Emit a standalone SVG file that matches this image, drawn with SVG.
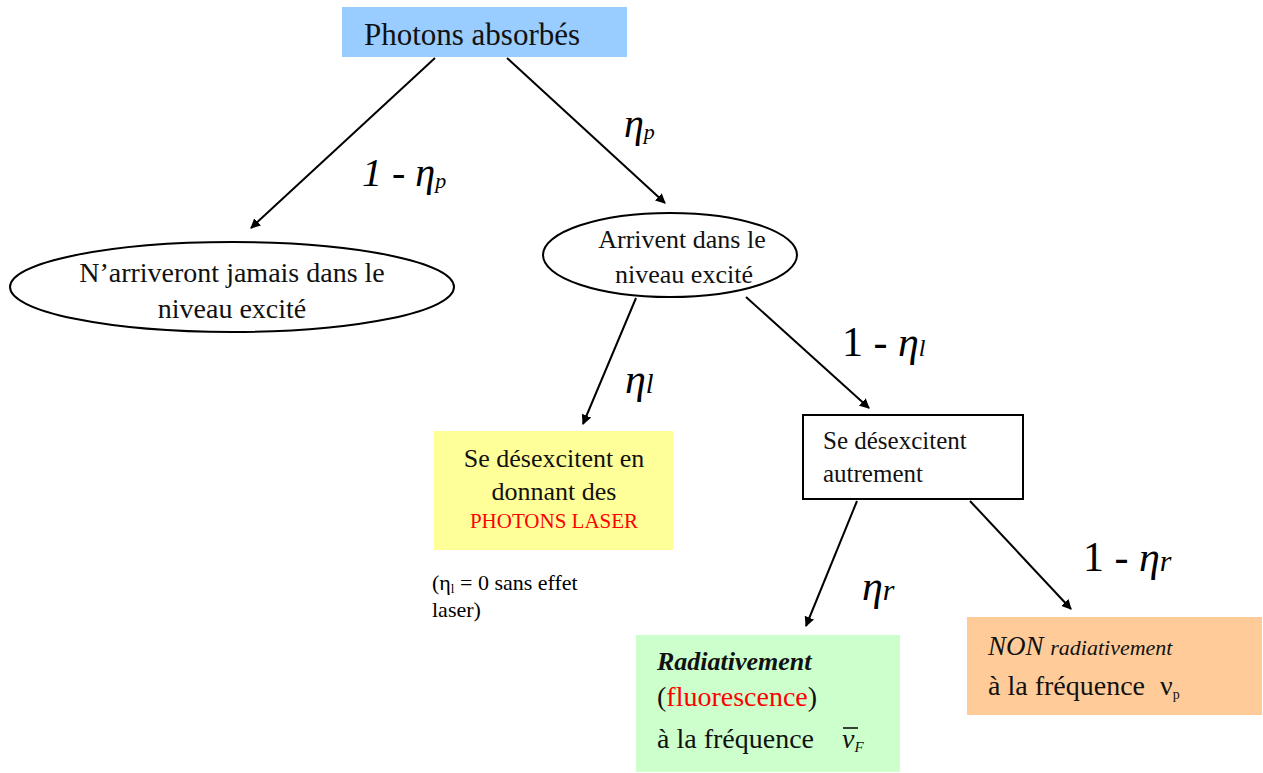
<svg xmlns="http://www.w3.org/2000/svg" width="1263" height="773" viewBox="0 0 1263 773">
<defs>
<marker id="ah" markerWidth="10" markerHeight="10" refX="9" refY="5" orient="auto" markerUnits="userSpaceOnUse" viewBox="0 0 10 10">
<path d="M0,0 L10,5 L0,10 z" fill="#000"/>
</marker>
</defs>
<rect width="1263" height="773" fill="#fff"/>
<g id="connectors" stroke="#000" stroke-width="2" fill="none">
<line marker-end="url(#ah)" x1="435" y1="58" x2="251" y2="228"/>
<line marker-end="url(#ah)" x1="507" y1="58" x2="665" y2="203"/>
<line marker-end="url(#ah)" x1="636" y1="298" x2="583" y2="424"/>
<line marker-end="url(#ah)" x1="746" y1="297" x2="869" y2="408"/>
<line marker-end="url(#ah)" x1="857" y1="501" x2="806" y2="626"/>
<line marker-end="url(#ah)" x1="970" y1="501" x2="1071" y2="609"/>
</g>
<g id="labels" fill="#000">
<text font-family="Liberation Serif" x="362" y="186" font-size="40" font-style="italic">1 - η<tspan font-size="22" dy="2">p</tspan></text>
<text font-family="Liberation Serif" x="624" y="137" font-size="40" font-style="italic">η<tspan font-size="22" dy="2">p</tspan></text>
<text font-family="Liberation Serif" x="625" y="393" font-size="42" font-style="italic">η<tspan font-size="28">l</tspan></text>
<text font-family="Liberation Serif" x="842" y="356" font-size="42">1 - <tspan font-style="italic">η</tspan><tspan font-style="italic" font-size="24">l</tspan></text>
<text font-family="Liberation Serif" x="862" y="600" font-size="42" font-style="italic">η<tspan font-size="30">r</tspan></text>
<text font-family="Liberation Serif" x="1083" y="571" font-size="42">1 - <tspan font-style="italic">η</tspan><tspan font-style="italic" font-size="30">r</tspan></text>
</g>
<g id="n-top" fill="#111">
<rect x="342" y="7" width="285" height="50" fill="#99ccff"/>
<text font-family="Liberation Serif" x="472" y="45" font-size="31" text-anchor="middle">Photons absorbés</text>
</g>
<g id="n-never" fill="#111">
<ellipse cx="232" cy="287" rx="222" ry="45" fill="#fff" stroke="#000" stroke-width="2"/>
<text font-family="Liberation Serif" x="232" y="282" font-size="28" text-anchor="middle">N’arriveront jamais dans le</text>
<text font-family="Liberation Serif" x="232" y="318" font-size="28" text-anchor="middle">niveau excité</text>
</g>
<g id="n-arrive" fill="#111">
<ellipse cx="670" cy="255" rx="127" ry="42" fill="#fff" stroke="#000" stroke-width="2"/>
<text font-family="Liberation Serif" x="682" y="248" font-size="26" text-anchor="middle">Arrivent dans le</text>
<text font-family="Liberation Serif" x="684" y="283" font-size="26" text-anchor="middle">niveau excité</text>
</g>
<g id="n-laser" fill="#111">
<rect x="434" y="431" width="239" height="119" fill="#ffff99"/>
<text font-family="Liberation Serif" x="554" y="467" font-size="26" text-anchor="middle">Se désexcitent en</text>
<text font-family="Liberation Serif" x="554" y="500" font-size="26" text-anchor="middle">donnant des</text>
<text font-family="Liberation Serif" x="554" y="528" font-size="21" text-anchor="middle" fill="#ff0000">PHOTONS LASER</text>
</g>
<g id="n-note" fill="#000">
<text font-family="Liberation Serif" x="432" y="590" font-size="22">(η<tspan font-size="13" dy="3">l</tspan><tspan dy="-3"> = 0 sans effet</tspan></text>
<text font-family="Liberation Serif" x="432" y="617" font-size="22">laser)</text>
</g>
<g id="n-autre" fill="#111">
<rect x="803" y="415" width="220" height="84" fill="#fff" stroke="#000" stroke-width="2"/>
<text font-family="Liberation Serif" x="823" y="449" font-size="25">Se désexcitent</text>
<text font-family="Liberation Serif" x="823" y="482" font-size="25">autrement</text>
</g>
<g id="n-radiatif" fill="#111">
<rect x="636" y="635" width="264" height="137" fill="#ccffcc"/>
<text font-family="Liberation Serif" x="657" y="670" font-size="26" font-weight="bold" font-style="italic">Radiativement</text>
<text font-family="Liberation Serif" x="657" y="706" font-size="28">(<tspan fill="#ff0000">fluorescence</tspan>)</text>
<text font-family="Liberation Serif" x="657" y="748" font-size="28">à la fréquence <tspan x="842" font-style="italic">ν</tspan><tspan font-style="italic" font-size="15" dy="4">F</tspan></text>
<line x1="843" y1="728" x2="858" y2="728" stroke="#000" stroke-width="1.5"/>
</g>
<g id="n-nonrad" fill="#111">
<rect x="967" y="617" width="295" height="98" fill="#ffcc99"/>
<text font-family="Liberation Serif" x="988" y="655" font-size="27" font-style="italic">NON <tspan font-size="22">radiativement</tspan></text>
<text font-family="Liberation Serif" x="988" y="695" font-size="28">à la fréquence <tspan x="1160">ν</tspan><tspan font-size="14" dy="4">p</tspan></text>
</g>
</svg>
